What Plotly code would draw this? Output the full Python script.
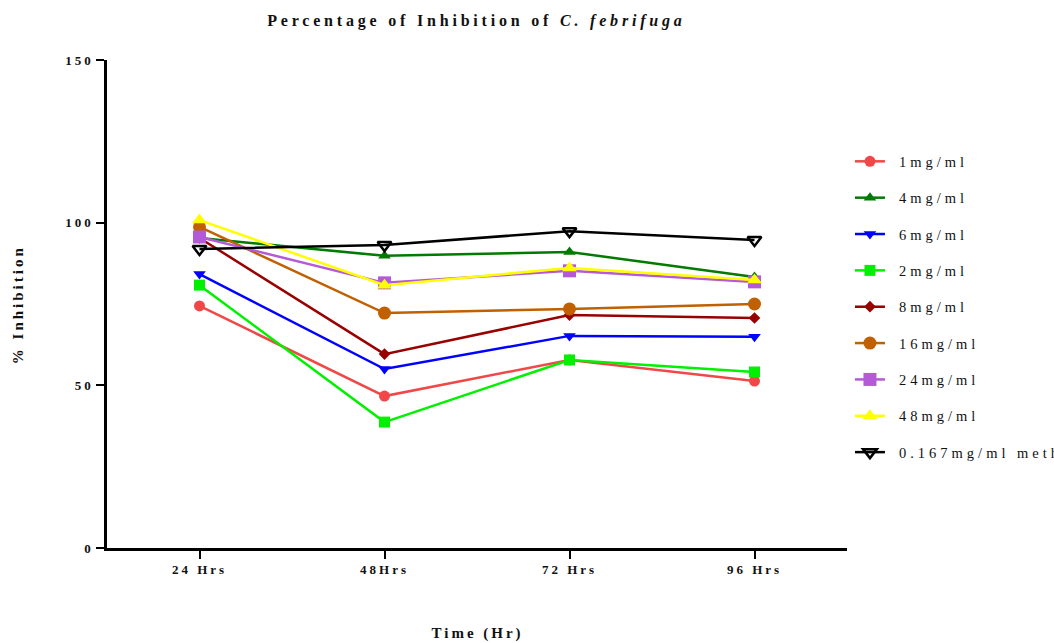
import plotly.graph_objects as go

times = ["24 Hrs", "48Hrs", "72 Hrs", "96 Hrs"]

series_names = ["1mg/ml", "4mg/ml", "6mg/ml", "2mg/ml", "8mg/ml",
                "16mg/ml", "24mg/ml", "48mg/ml", "0.167mg/ml meth"]
v_1 = [74.4, 46.7, 57.8, 51.3]
v_4 = [95.3, 89.8, 91.0, 83.3]
v_6 = [84.2, 55.0, 65.2, 64.9]
v_2 = [80.8, 38.7, 57.8, 54.1]
v_8 = [95.3, 59.6, 71.6, 70.7]
v_16 = [98.7, 72.2, 73.5, 75.0]
v_24 = [95.6, 81.5, 85.2, 81.8]
v_48 = [100.8, 80.8, 86.1, 82.4]
v_ctrl = [91.9, 93.1, 97.4, 94.7]
values = [v_1, v_4, v_6, v_2, v_8, v_16, v_24, v_48, v_ctrl]

y_ticks = [0, 50, 100, 150]

colors = ["#F04848", "#007A00", "#0000FF", "#00F000", "#990000",
          "#C06000", "#B45AD8", "#FFFF00", "#000000"]
symbols = ["circle", "triangle-up", "triangle-down", "square", "diamond",
           "circle", "square", "triangle-up", "triangle-down-open"]
sizes = [11, 11, 11, 11, 9, 13, 13, 13, 12]

fig = go.Figure()
for i, (name, vals) in enumerate(zip(series_names, values)):
    fig.add_trace(go.Scatter(
        x=times, y=vals, name=name, mode="lines+markers",
        legendgroup=f"g{i}",
        line=dict(color=colors[i], width=2.5),
        marker=dict(symbol=symbols[i], size=sizes[i], color=colors[i],
                    line=dict(color=colors[i], width=2.5 if i == 8 else 0)),
    ))

font_serif = "Liberation Serif, Times New Roman, serif"
fig.update_layout(
    width=1054, height=643,
    margin=dict(l=107, r=207, t=60, b=95, autoexpand=False),
    plot_bgcolor="white", paper_bgcolor="white",
    font=dict(family=font_serif, color="#111111"),
    title=dict(text="<b>Percentage of Inhibition of <i>C. febrifuga</i></b>",
               x=0.452, xanchor="center", y=0.969, yanchor="middle",
               font=dict(size=16, family=font_serif)),
    legend=dict(x=1.004, xanchor="left", y=0.825, yanchor="top",
                font=dict(size=14.5, family=font_serif),
                tracegroupgap=14.5, bgcolor="rgba(0,0,0,0)"),
    showlegend=True,
    annotations=[
        dict(text="<b>Time (Hr)</b>", xref="paper", yref="paper",
             x=0.5, y=-0.176, xanchor="center", yanchor="middle",
             showarrow=False, font=dict(size=15, family=font_serif)),
        dict(text="<b>% Inhibition</b>", xref="paper", yref="paper",
             x=-0.12, y=0.5, xanchor="center", yanchor="middle", textangle=-90,
             showarrow=False, font=dict(size=15, family=font_serif)),
    ],
)
fig.update_xaxes(
    type="category", range=[-0.5, 3.5], showgrid=False, zeroline=False,
    showline=True, linecolor="black", linewidth=2.5, automargin=False,
    ticks="outside", ticklen=8, tickwidth=2, tickcolor="black",
    tickfont=dict(size=13, family=font_serif),
    tickvals=times, ticktext=[f"<b>{t}</b>" for t in times],
)
fig.update_yaxes(
    range=[0, 150], tickvals=y_ticks, showgrid=False, zeroline=False,
    showline=True, linecolor="black", linewidth=2.5, automargin=False,
    ticks="outside", ticklen=8, tickwidth=2, tickcolor="black",
    tickfont=dict(size=13, family=font_serif),
    ticktext=[f"<b>{t}</b>" for t in y_ticks],
)

post = """
document.body.style.margin = '0';
var gd = document.getElementById('{plot_id}');
function spaceText() {
  gd.querySelectorAll('.gtitle').forEach(function(t){ t.style.letterSpacing = '3.8px'; });
  gd.querySelectorAll('.legendtext').forEach(function(t){
    t.style.letterSpacing = '4px';
    var x = parseFloat(t.getAttribute('x') || '0');
    t.setAttribute('x', x + 9);
  });
  gd.querySelectorAll('.legend .scrollbox, .legend').forEach(function(g){ g.removeAttribute('clip-path'); });
  gd.querySelectorAll('.xtick text, .ytick text').forEach(function(t){ t.style.letterSpacing = '3px'; });
  gd.querySelectorAll('.annotation-text').forEach(function(t){ t.style.letterSpacing = '3px'; });
}
spaceText();
"""
fig.write_html("out.html", post_script=post, config={"displayModeBar": False})
